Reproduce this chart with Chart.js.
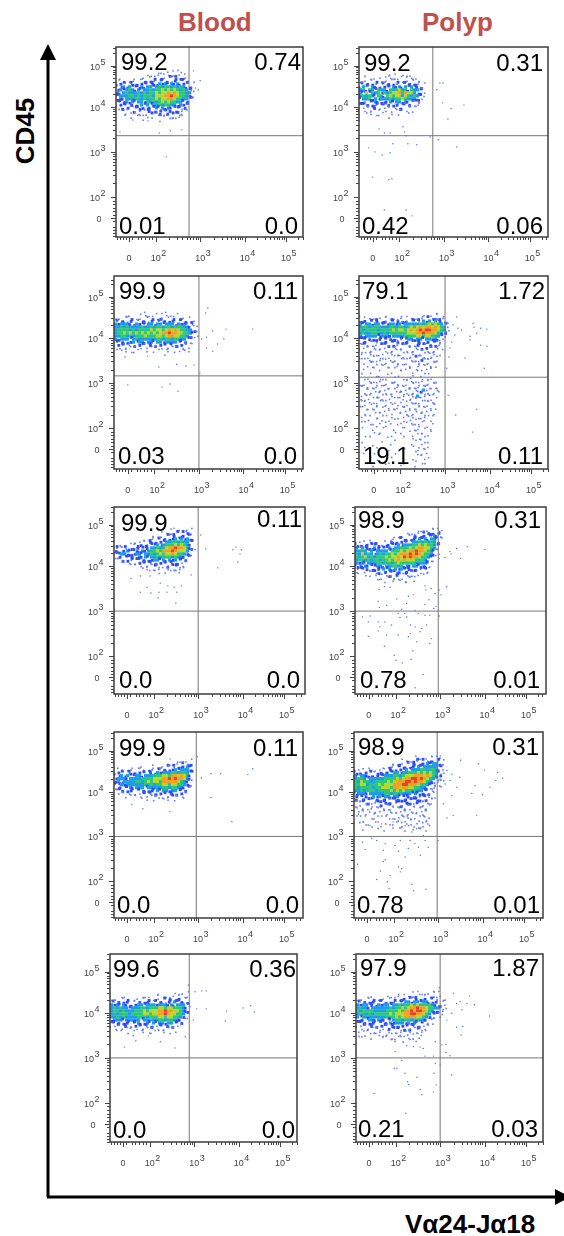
<!DOCTYPE html>
<html>
<head>
<meta charset="utf-8">
<title>CD45 vs Va24-Ja18</title>
<script src="https://cdn.jsdelivr.net/npm/chart.js@4"></script>
<style>
    body { margin: 0; background: #fff; font-family: "Liberation Sans", Arial, sans-serif; }
    #page { position: relative; width: 564px; height: 1236px; overflow: hidden; }
    #page canvas { position: absolute; display: block; }
    #arrows { position: absolute; left: 0; top: 0; }
    .head { position: absolute; font-weight: bold; white-space: nowrap; line-height: 1; }
</style>
</head>
<body>
<div id="page">
    <svg id="arrows" width="564" height="1236">
        <path d="M48 1197 V58 M47 1197 H556" stroke="#000" stroke-width="3" fill="none"/>
        <path d="M48 44 L56 60 L40 60 Z M570 1197 L555 1189 L555 1205 Z" fill="#000"/>
    </svg>
    <div class="head" style="left:178px;top:9px;font-size:26px;color:#c0504d">Blood</div>
    <div class="head" style="left:422px;top:9px;font-size:26px;color:#c0504d">Polyp</div>
    <div class="head" style="left:-8px;top:118px;font-size:26px;transform:rotate(-90deg)">CD45</div>
    <div class="head" style="left:405px;top:1211px;font-size:26px">Vα24-Jα18</div>
</div>
<script>
// Axis ticks, in display decades (the axis is biexponential so "0" sits left of 10^2)
const xMajorTicks = [1.40, 2, 3, 4, 4.93];
const yMajorTicks = [1.53, 2, 3, 4, 4.91];
const tickPowers = ['0', '2', '3', '4', '5'];
const minorTicks = [1.14, 1.2, 1.26, 1.33, 1.47, 1.6, 1.68, 1.76, 1.84, 1.92,
    2.3, 2.48, 2.6, 2.7, 2.78, 2.85, 2.9, 2.95,
    3.3, 3.48, 3.6, 3.7, 3.78, 3.85, 3.9, 3.95,
    4.28, 4.45, 4.56, 4.65, 4.72, 4.78, 4.83, 4.88, 5.2, 5.3];

// Density: one string per row, top row first, 0 = empty ... 7 = red peak
const blood1Density = [
    "000000000000000101011100000",
    "000000000011011101111010000",
    "000000001101110112121211000",
    "110011101112122212122121100",
    "122121212222223232323222110",
    "223232223233234344343432210",
    "232343232334344545454343210",
    "323433343434454556565443310",
    "233344343444355566765443210",
    "232333443434454556654433210",
    "222323233243434545443322100",
    "122212223232334344332322100",
    "112121222122232323222221000",
    "011102112122122121212111000",
    "001101011101212112122110000",
    "000001010110101110111100000",
    "000000000100001001010000000"
];
const polyp1Density = [
    "00000000011010101000000",
    "00100110101110111101000",
    "10111011111011111110100",
    "21212122121212122121110",
    "23213212222323232322210",
    "34243243324345342433210",
    "32524342434556465532210",
    "34343244245455354343210",
    "23342323334344543332100",
    "22122322223233232212100",
    "12212122121221212111100",
    "11012201111012201110000",
    "01011010101011010100000",
    "00101100100101001000000",
    "00000010010000000000000"
];
const blood2Density = [
    "0000000000100000010000000000",
    "0000110010110010110101000000",
    "1101101110111012101110110100",
    "2122122112212221212221212110",
    "3233322322233233233323232210",
    "3343433334334344344344433211",
    "3444434344445455456565443321",
    "3445454545454545667665544321",
    "3344343444544455456655443211",
    "3233323433333344344344332110",
    "2222223233233233233332221100",
    "1212112122122212122122211100",
    "1101110110011011011101110100",
    "0110110010010101011011010100",
    "0000001000000000100000000000"
];
const polyp2Density = [
    "000000000000000000000101011000",
    "110101101101011011011112121110",
    "212122212122122212221323232210",
    "323323322233232333334345454321",
    "344344433344344345456566565431",
    "434444344445455456567677665431",
    "343344434344444455566766654321",
    "323333233323333444455455443210",
    "222212222222212233233233232100",
    "122112122212122222122212221100",
    "101111011022111011122112221100",
    "111011111101111011111221111100",
    "101111011011101111110111110000",
    "110111010111110101111011111000",
    "011011101101011111021111101000",
    "101110111011101011112111011000",
    "010111011101011101011111110000",
    "001010110010110111011101110000",
    "010010100101001101011010100000",
    "000100000010001001010001000000",
    "010001000100010000100010000000",
    "001000101000100101001001000000",
    "001101110101100111011111010000",
    "110111011111011101110111110000",
    "111011101010111011111110110000",
    "101110011101011110111311011000",
    "011011111110111101112111011000",
    "101101101011101111131111100000",
    "110110111011011011111011010000",
    "011101010110110101110111100000",
    "101011101101011011011110110000",
    "010110110101101110101101010000",
    "101010101011010101111010100000",
    "011001010101010110101101010000",
    "100101101001101011110110100000",
    "010100010100100101011101000000",
    "001010101010010101100100100000",
    "000100100100101001011010000000",
    "010010001001000100110101000000",
    "000001010000100001101000100000",
    "001000100010001001010110000000",
    "000100000100000100101010000000",
    "010000010000100000011010000000",
    "000010000010000001001001000000",
    "001000100000000000101101000000",
    "000000000100000100010100000000",
    "010001000000100000101010000000",
    "000100000010000000011001000000",
    "000000100000001000100100000000",
    "001000000100000100010010000000",
    "000010001000010000100100000000"
];
const blood3Density = [
    "000000000000000000010101110",
    "000000000000000101110212210",
    "000000000000011102122122210",
    "000000000010112121223232320",
    "000000011012212223344343320",
    "011101112121223234445454320",
    "121212122222334345667665421",
    "221232222323445466676555321",
    "123322233233434545565443210",
    "112122223232334344434332210",
    "011221212222233232323222100",
    "001101112122122212212211000",
    "000001011011121012122211000",
    "000000000101011101111110000",
    "000000000001010110101100000"
];
const polyp3Density = [
    "000000000000000000000011011100",
    "000000000000000001011121212210",
    "000000000000001101112122223210",
    "000000000000110212122323233210",
    "110111010011212222233434343210",
    "212122221122223233344545443210",
    "323222322223233444545665543100",
    "334323233332444545667665432100",
    "435343234344545666767654432100",
    "434534344454556576766544321000",
    "344343443445456565554443210000",
    "323233344344345444443333210000",
    "222322233243443423233222100000",
    "122122222323232322222122100000",
    "110111212122212122211011100000",
    "000101111012122011111010000000",
    "000000011011011101110000000000",
    "000000001010111011010000000000"
];
const blood4Density = [
    "000000000000000000000011010",
    "000000000000000000101121120",
    "000000001100101112121222320",
    "011011101101112122223233320",
    "122121222122223233344344320",
    "223232233233344455466565420",
    "233323333444455566767665320",
    "232333344345455466666543210",
    "223233333344434455455443210",
    "122223233323333344344332210",
    "112122212222223233233222100",
    "011101111122122212222121100",
    "000101011101111011121011000",
    "000000000001010110101000000"
];
const polyp4Density = [
    "000000000000000000001011011110",
    "000000000000000011011212122121",
    "000000000000011012122122323321",
    "000000000001112212122323333321",
    "110111001112212223233344344321",
    "212122112222233233444545454321",
    "323322222233344345556665654321",
    "344323333344445456677676543211",
    "435443344445456667767665432111",
    "445534445455566677666544321110",
    "434444344555466566554433211110",
    "334344434444545454444332211000",
    "233323333344344433323222211000",
    "222122323233233222222122111000",
    "212212122222122222122122111000",
    "111021112122212122212211110000",
    "101111011211011212111011110000",
    "101011110111011111101111100000",
    "011101011011101111011011100000",
    "101010110101101110111011000000",
    "010101001010101011101011010000",
    "001000101001011010110101100000",
    "010010010010101101011010100000",
    "000100100100100110101101010000",
    "001000010010010101010110100000"
];
const blood5Density = [
    "000000000000000000000101000",
    "000010000001000110101011010",
    "110110100111101011212122110",
    "212122211212221222122322210",
    "323232222332333233323233320",
    "343433233344344455455444321",
    "344343334445455566766554320",
    "343444344445545566765544320",
    "334343333444344455455443210",
    "233323333323343344344332100",
    "222122222322323233233222000",
    "112122112122122122122111000",
    "011011111011101111011100000",
    "000101001011010101110100000",
    "000000010000010000000000000"
];
const polyp5Density = [
    "000000000000000000011011011100",
    "000001000011011011110111011100",
    "110110111101111122122212121101",
    "212122212122122233233233222111",
    "323322232332334344545444432211",
    "343323333334344545667665443321",
    "434444333344445466767765432211",
    "344343444445455566776654322110",
    "323333333344454566665543211100",
    "222233233222344344344332110000",
    "122122212223233323232211110000",
    "112122212212222212212211100000",
    "110111111012212122112111000000",
    "101101111011011111101110000000",
    "011010110111011101011100000000",
    "010001001101101011011000000000",
    "000000000000110101001000000000"
];

// Single events outside the dense clouds, as [x, y] in display decades
const blood1Events = [[2.85,4.8],[3,4.58],[2.89,4.42],[2.96,4.38],[2.24,2.89],[1.2,3.44],[2.08,3.42],[2.33,3.47],[2.59,3.49],[1.83,3.69],[1.49,3.71]];
const polyp1Events = [[2.91,4.53],[2.98,4.53],[2.84,4.38],[2.97,4.09],[3.16,3.96],[3.45,4.04],[3.09,3.73],[1.54,3.51],[1.66,3.42],[1.79,3.42],[2.08,3.56],[2.12,3.44],[2.15,3.36],[2.69,3.33],[2.87,3.27],[3.29,3.11],[1.31,3.09],[1.45,3],[1.61,2.93],[1.79,2.98],[1.85,3.18],[2.19,3.18],[2.39,3.16],[1.4,2.44],[1.76,2.38],[1.83,2.4],[1.66,1.71],[2.15,1.71],[2.28,1.58]];
const blood2Events = [[3.2,4.67],[3.15,4.56],[3.31,4.16],[3.61,4.2],[4.21,4.2],[3.17,4.02],[3.06,3.98],[3.56,3.98],[3.42,3.87],[3.17,3.78],[3.31,3.71],[3.02,3.22],[2.1,3.36],[2.5,3.42],[2.71,3.38],[2.89,3.4],[1.4,2.96],[2.17,2.91],[2.35,2.98],[2.53,2.82],[1.34,3.58],[1.85,3.6]];
const polyp2Events = [[3.07,4.33],[3.18,4.29],[3.26,4.47],[3.29,4.22],[3.37,4.18],[3.63,4.33],[3.65,4.24],[3.8,4.22],[3.94,4.2],[3.71,4.11],[3.56,3.96],[3.15,3.91],[3.22,4.07],[3.11,3.78],[3.45,3.56],[3.88,3.33],[3.56,4.04],[3.8,3.84],[3.94,3.82],[3.07,2.73],[3.24,2.29],[3.71,2.42],[3.62,1.91],[3.04,3.33],[3.09,3.58]];
const blood3Events = [[3.06,4.69],[3.17,4.38],[3.78,4.36],[3.85,4.42],[3.97,4.36],[3.94,4.27],[3.89,4.09],[3.44,3.96],[2.46,4.84],[1.49,3.73],[1.7,3.78],[1.92,3.78],[2.15,3.62],[1.85,3.53],[2.32,3.56],[2.46,3.53],[2.63,3.56],[1.7,3.42],[1.94,3.4],[2.12,3.42],[2.3,3.42],[2.52,3.42],[2.1,3.29],[2.5,3.18],[2.84,3.8]];
const polyp3Events = [[3.04,4.79],[3.02,4.65],[3.22,4.32],[3.25,4.27],[3.37,4.39],[3.61,4.43],[4.01,4.37],[3.46,4.17],[3.11,4.19],[2.98,4.17],[3.15,3.54],[2.98,3.47],[3.02,3.36],[1.63,3.48],[1.75,3.54],[1.88,3.53],[2.66,3.56],[2.68,3.47],[2.8,3.5],[2.89,3.39],[2.29,3.33],[2.4,3.36],[2.03,3.27],[1.61,3.22],[2.25,3.17],[2.75,3.25],[2.66,3.15],[1.8,3.13],[1.64,3.08],[2.14,3.04],[2.44,3.01],[2.86,3.06],[2.91,3.1],[2.06,2.95],[2.21,2.95],[2.25,2.87],[2.51,2.95],[2.66,2.91],[2.77,2.91],[1.43,2.89],[1.26,2.87],[1.39,2.76],[1.61,2.76],[1.76,2.76],[1.65,2.65],[1.61,2.56],[1.91,2.69],[2.1,2.86],[2.33,2.69],[2.44,2.65],[2.59,2.62],[2.7,2.69],[2.55,2.54],[2.33,2.5],[1.8,2.47],[1.39,2.44],[2.06,2.47],[2.81,2.39],[2.48,2.32],[2.77,2.28],[1.75,2.22],[2.39,2.12],[1.97,2.02],[2.01,1.91],[2.15,1.85],[2.35,1.93],[2.62,1.59],[2.44,1.3],[2.98,2.89],[2.29,2.43]];
const blood4Events = [[2.98,4.78],[2.37,4.73],[3.08,4.31],[3.29,4.4],[3.51,4.4],[4.12,4.38],[4.23,4.51],[3.29,3.87],[3.76,3.33],[2.37,3.56],[1.76,3.62],[1.51,3.71]];
const polyp4Events = [[3.05,4.8],[3.51,4.7],[3.91,4.62],[4.04,4.48],[4.34,4.43],[4.45,4.3],[4.3,4.25],[4.17,4.1],[3.83,4.13],[3.76,3.96],[4,3.93],[3.49,4.32],[3.31,4.39],[3.2,4.47],[3.27,4.25],[3.42,4.1],[3.16,4.17],[3.31,3.91],[3.12,3.73],[3.34,3.47],[3.2,3.41],[3.87,3.47],[2.41,3.1],[2.67,3.02],[1.51,2.96],[1.62,2.91],[1.3,2.87],[1.81,2.84],[2.15,2.91],[2.37,2.91],[2.48,2.84],[2.71,2.91],[3,2.91],[1.36,2.71],[1.77,2.69],[2.11,2.67],[2.33,2.73],[2.56,2.76],[2.78,2.76],[2.26,2.54],[2.6,2.58],[1.81,2.48],[1.77,2.44],[2.18,2.28],[2.11,2.32],[2.15,2.21],[1.7,2.23],[1.19,2.38],[1.62,2.04],[1.86,1.99],[1.9,1.84],[2.41,1.93],[2.45,1.79],[2.73,1.82],[1.12,1.47],[1.92,2.13],[2.03,2.8],[1.47,3.24],[1.73,3.28],[1.99,3.32],[2.26,3.24],[2.52,3.17],[1.32,3.32],[1.21,3.5]];
const blood5Events = [[2.87,4.62],[2.87,4.47],[3.02,4.47],[3.17,4.49],[3.27,4.49],[3.06,4.09],[3.27,4.09],[3.73,4.04],[4.1,4.11],[4.27,4.16],[4.35,4.02],[3.7,3.82],[1.43,3.24],[1.69,3.38],[1.97,3.49],[2.24,3.36],[2.57,3.22],[2.8,3.47],[2.98,3.84]];
const polyp5Events = [[2.98,4.56],[3.3,4.44],[3.66,4.38],[3.6,4.21],[3.77,4.18],[3.45,4.25],[3.37,4.21],[3.49,4.07],[4.11,3.93],[3.37,3.68],[3.51,3.7],[3.47,3.51],[3.15,3.84],[3.26,3.99],[3.04,3.29],[3.13,3.3],[3.13,3.12],[3.22,3.05],[2.66,3.04],[2.85,3.04],[2.89,2.88],[3,2.84],[3.26,2.62],[2.86,2.66],[1.99,3.14],[2.14,2.94],[1.97,2.77],[2.03,2.77],[2.21,2.66],[2.48,2.57],[2.27,2.47],[2.29,2.41],[2.91,2.4],[2.55,2.3],[2.85,2.24],[2.59,2.18],[1.52,2.21],[2.23,1.77],[2.25,3.27],[2.4,3.25],[2.55,3.24],[2.62,3.21],[2.89,3.36]];

// Quadrant percentages: upper left, upper right, lower left, lower right
const blood1Gates = ['99.2', '0.74', '0.01', '0.0'];
const polyp1Gates = ['99.2', '0.31', '0.42', '0.06'];
const blood2Gates = ['99.9', '0.11', '0.03', '0.0'];
const polyp2Gates = ['79.1', '1.72', '19.1', '0.11'];
const blood3Gates = ['99.9', '0.11', '0.0', '0.0'];
const polyp3Gates = ['98.9', '0.31', '0.78', '0.01'];
const blood4Gates = ['99.9', '0.11', '0.0', '0.0'];
const polyp4Gates = ['98.9', '0.31', '0.78', '0.01'];
const blood5Gates = ['99.6', '0.36', '0.0', '0.0'];
const polyp5Gates = ['97.9', '1.87', '0.21', '0.03'];

// Look of a density level: sparse levels are small dots so the white shows through
const levelColors = [null, '#5f7af8', '#2f4cf6', '#1f9de6', '#2cc878', '#b6d82c', '#f2a024', '#e5432a'];
const levelRadius = [0, 1.1, 2, 2.3, 2.3, 2.3, 2.3, 2.3];
const cellNudge = [0.2, -0.5, 0.5, -0.3, 0.4, -0.5, 0.1];
const colStep = 0.0674, rowStep = 0.0667;
const padLeft = 34, padRight = 8, padTop = 4, padBottom = 32;

// box = plot frame in page px, range = axis limits, grid = decades of the first density cell,
// gate = quadrant lines, spots = where the four percentages sit
const panels = [
    { density: blood1Density, events: blood1Events, text: blood1Gates, box: [116, 47, 303, 237], range: [1.11, 5.31, 1.11, 5.33], grid: [1.146, 4.778], gate: [2.75, 3.36], spots: [121, 70, 301, 70, 119, 234, 298, 234] },
    { density: polyp1Density, events: polyp1Events, text: polyp1Gates, box: [359, 47, 548, 237], range: [1.09, 5.34, 1.11, 5.33], grid: [1.124, 4.711], gate: [2.75, 3.36], spots: [364, 71, 543, 71, 362, 234, 543, 234] },
    { density: blood2Density, events: blood2Events, text: blood2Gates, box: [114, 276, 303, 469], range: [1.09, 5.34, 1.09, 5.38], grid: [1.124, 4.578], gate: [3, 3.16], spots: [119, 299, 298, 299, 118, 464, 297, 464] },
    { density: polyp2Density, events: polyp2Events, text: polyp2Gates, box: [359, 276, 548, 469], range: [1.07, 5.31, 1.09, 5.38], grid: [1.101, 4.511], gate: [3, 3.13], spots: [362, 299, 545, 299, 363, 464, 543, 464] },
    { density: blood3Density, events: blood3Events, text: blood3Gates, box: [114, 507, 305, 694], range: [1.11, 5.4, 1.16, 5.31], grid: [1.146, 4.8], gate: [3, 3], spots: [121, 531, 302, 527, 119, 688, 300, 688] },
    { density: polyp3Density, events: polyp3Events, text: polyp3Gates, box: [355, 507, 546, 694], range: [1.09, 5.38, 1.16, 5.31], grid: [1.124, 4.8], gate: [2.96, 3], spots: [358, 528, 541, 528, 360, 688, 540, 688] },
    { density: blood4Density, events: blood4Events, text: blood4Gates, box: [114, 732, 303, 918], range: [1.11, 5.36, 1.18, 5.33], grid: [1.146, 4.689], gate: [2.96, 3], spots: [119, 756, 298, 756, 117, 913, 299, 913] },
    { density: polyp4Density, events: polyp4Events, text: polyp4Gates, box: [354, 732, 543, 918], range: [1.11, 5.36, 1.18, 5.33], grid: [1.146, 4.756], gate: [2.98, 3], spots: [358, 755, 539, 755, 357, 913, 540, 913] },
    { density: blood5Density, events: blood5Events, text: blood5Gates, box: [110, 954, 297, 1142], range: [1.11, 5.31, 1.13, 5.31], grid: [1.146, 4.444], gate: [2.89, 3], spots: [113, 977, 296, 977, 113, 1138, 295, 1138] },
    { density: polyp5Density, events: polyp5Events, text: polyp5Gates, box: [356, 954, 543, 1142], range: [1.11, 5.31, 1.13, 5.31], grid: [1.146, 4.444], gate: [3, 3], spots: [360, 976, 539, 976, 358, 1137, 538, 1137] }
];

// Turn the density strings into one square point per non-empty cell,
// sparse cells are nudged off the lattice so they do not read as a regular grid
function densityPoints(panel) {
    const points = [];
    panel.density.forEach((row, r) => {
        [...row].forEach((ch, c) => {
            const level = Number(ch);
            if (level === 0) return;
            const dx = level < 3 ? cellNudge[(r * 3 + c) % 7] : 0;
            const dy = level < 3 ? cellNudge[(r + c * 2) % 7] : 0;
            points.push({ x: panel.grid[0] + (c + dx) * colStep, y: panel.grid[1] - (r + dy) * rowStep, level });
        });
    });
    return points;
}

function setTicks(majors) {
    return scale => {
        const minors = minorTicks.filter(v => v > scale.min && v < scale.max);
        scale.ticks = majors.map(value => ({ value, major: true })).concat(minors.map(value => ({ value, major: false })));
    };
}

// Draw a "10" with a raised power, or the bare "0"
function drawPower(ctx, power, x, y) {
    if (power === '0') {
        ctx.textAlign = 'center';
        ctx.fillText('0', x, y);
        return;
    }
    ctx.textAlign = 'left';
    ctx.fillText('10', x - 5, y);
    ctx.fillText(power, x + 5.5, y - 5);
}

// Frame, tick marks, tick labels and quadrant percentages
function framePlugin(panel) {
    return {
        id: 'frame',
        afterDatasetsDraw(chart) {
            const { ctx, chartArea: area, scales } = chart;
            ctx.save();
            ctx.strokeStyle = '#3c3c3c';
            ctx.lineWidth = 1.5;
            ctx.strokeRect(area.left, area.top, area.right - area.left, area.bottom - area.top);

            ctx.lineWidth = 1;
            ctx.strokeStyle = '#444';
            ctx.beginPath();
            scales.x.ticks.forEach(t => {
                const px = Math.round(scales.x.getPixelForValue(t.value)) + 0.5;
                ctx.moveTo(px, area.bottom);
                ctx.lineTo(px, area.bottom + (t.major ? 5 : 3));
            });
            scales.y.ticks.forEach(t => {
                const py = Math.round(scales.y.getPixelForValue(t.value)) + 0.5;
                ctx.moveTo(area.left, py);
                ctx.lineTo(area.left - (t.major ? 5 : 3), py);
            });
            ctx.stroke();

            ctx.fillStyle = '#444';
            ctx.font = '9px "Liberation Sans", Arial, sans-serif';
            ctx.textBaseline = 'alphabetic';
            tickPowers.forEach((power, i) => {
                drawPower(ctx, power, scales.x.getPixelForValue(xMajorTicks[i]), area.bottom + 24);
                const y = scales.y.getPixelForValue(yMajorTicks[i]) + 4;
                drawPower(ctx, power, power === '0' ? area.left - 17 : area.left - 21, y);
            });

            // spots are page px, the canvas starts padLeft/padTop before the frame
            const dx = panel.box[0] - padLeft, dy = panel.box[1] - padTop;
            const s = panel.spots;
            ctx.fillStyle = '#000';
            ctx.font = '24px "Liberation Sans", Arial, sans-serif';
            panel.text.forEach((label, i) => {
                ctx.textAlign = i % 2 ? 'right' : 'left';
                ctx.fillText(label, s[i * 2] - dx, s[i * 2 + 1] - dy);
            });
            ctx.restore();
        }
    };
}

function axisOptions(min, max, majors) {
    return {
        type: 'linear',
        min,
        max,
        afterBuildTicks: setTicks(majors),
        ticks: { display: false, autoSkip: false, callback: () => '' },
        grid: { display: false, drawTicks: false },
        border: { display: false }
    };
}

function renderPanel(panel) {
    const [left, top, right, bottom] = panel.box;
    const [xMin, xMax, yMin, yMax] = panel.range;
    const canvas = document.createElement('canvas');
    canvas.width = right - left + padLeft + padRight;
    canvas.height = bottom - top + padTop + padBottom;
    canvas.style.left = (left - padLeft) + 'px';
    canvas.style.top = (top - padTop) + 'px';
    document.getElementById('page').appendChild(canvas);

    const cells = densityPoints(panel);
    const lineStyle = { showLine: true, pointRadius: 0, borderColor: '#777', borderWidth: 1 };

    new Chart(canvas.getContext('2d'), {
        type: 'scatter',
        data: {
            datasets: [
                { ...lineStyle, data: [{ x: panel.gate[0], y: yMin }, { x: panel.gate[0], y: yMax }] },
                { ...lineStyle, data: [{ x: xMin, y: panel.gate[1] }, { x: xMax, y: panel.gate[1] }] },
                {
                    data: panel.events.map(p => ({ x: p[0], y: p[1] })),
                    pointRadius: 0.7,
                    pointBorderWidth: 0,
                    pointBackgroundColor: '#4a66f5'
                },
                {
                    data: cells,
                    pointStyle: 'rect',
                    pointRadius: cells.map(p => levelRadius[p.level]),
                    pointBorderWidth: 0,
                    pointBackgroundColor: cells.map(p => levelColors[p.level])
                }
            ]
        },
        options: {
            responsive: false,
            animation: false,
            events: [],
            layout: { autoPadding: false, padding: { left: padLeft, right: padRight, top: padTop, bottom: padBottom } },
            plugins: { legend: { display: false }, tooltip: { enabled: false } },
            scales: {
                x: axisOptions(xMin, xMax, xMajorTicks),
                y: axisOptions(yMin, yMax, yMajorTicks)
            }
        },
        plugins: [framePlugin(panel)]
    });
}

panels.forEach(renderPanel);
</script>
</body>
</html>
